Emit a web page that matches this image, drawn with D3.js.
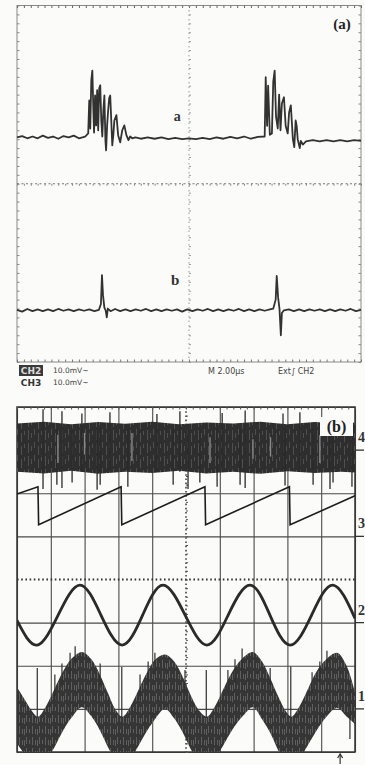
<!DOCTYPE html>
<html><head><meta charset="utf-8">
<script src="https://cdn.jsdelivr.net/npm/d3@7"></script>
<style>body{margin:0;background:#fbfbf9;}svg{display:block}</style>
</head><body><svg id="c" width="365" height="765"></svg>
<script>
// ---------------- DATA (oscilloscope divisions) ----------------
// Panel (a): x = time in divisions (0..10), y = volts in divisions (-4..4)
const traceA = [[0,1.04],[0.15,1.07],[0.3,1.02],[0.45,1.06],[0.6,1.02],[0.75,1.08],[0.9,1.03],[1.05,1.06],[1.2,1.01],[1.35,1.07],[1.5,1.04],[1.65,1.08],[1.8,1.02],[1.98,1.06],
 [2.07,1.13],[2.10,1.87],[2.13,1.24],[2.16,2.32],[2.19,2.54],[2.22,1.65],[2.24,1.15],[2.27,1.98],[2.30,1.31],[2.33,2.10],[2.36,1.20],[2.39,2.14],[2.42,2.21],[2.45,1.42],[2.48,1.06],[2.51,1.65],[2.54,1.98],[2.57,0.98],[2.59,0.75],[2.62,1.31],[2.65,1.65],[2.68,1.92],[2.71,1.98],[2.74,1.42],[2.77,0.86],[2.80,1.09],[2.83,1.42],[2.89,1.54],[2.94,1.09],[3.00,0.93],[3.06,1.20],[3.12,1.31],[3.18,1.09],[3.24,0.98],[3.29,1.06],[3.35,1.02],[3.44,1.04],
 [3.6,1.01],[3.8,1.04],[4.0,1.01],[4.2,1.04],[4.4,1.0],[4.6,1.03],[4.8,1.0],[5.0,1.02],[5.2,1.0],[5.4,1.03],[5.6,1.0],[5.8,1.04],[6.0,1.01],[6.2,1.05],[6.4,1.02],[6.6,1.06],[6.8,1.01],[7.0,1.05],
 [7.2,1.06],[7.23,2.39],[7.27,1.3],[7.30,2.2],[7.35,1.1],[7.41,1.13],[7.45,2.3],[7.49,2.54],[7.53,1.5],[7.58,1.24],[7.62,2.0],[7.66,1.2],[7.70,1.8],[7.76,1.94],[7.81,1.3],[7.87,1.13],[7.91,1.6],[7.96,1.76],[8.02,1.0],[8.06,0.82],[8.10,1.42],[8.13,1.3],[8.16,1.0],[8.22,0.8],[8.25,0.96],[8.31,0.88],
 [8.4,0.95],[8.6,0.98],[8.8,0.95],[9.0,0.98],[9.2,0.95],[9.4,0.98],[9.6,0.95],[9.8,0.98],[10,0.96]];
const traceB = [[0,-2.83],[0.15,-2.87],[0.3,-2.81],[0.45,-2.86],[0.6,-2.82],[0.75,-2.86],[0.9,-2.82],[1.05,-2.86],[1.2,-2.81],[1.35,-2.85],[1.5,-2.82],[1.65,-2.86],[1.8,-2.82],[1.95,-2.85],[2.1,-2.82],[2.25,-2.86],[2.38,-2.83],
 [2.44,-2.7],[2.47,-2.05],[2.5,-2.5],[2.54,-2.78],[2.58,-2.85],[2.61,-3.0],[2.64,-2.8],[2.72,-2.86],
 [2.85,-2.81],[3.0,-2.86],[3.15,-2.82],[3.3,-2.86],[3.45,-2.82],[3.6,-2.85],[3.75,-2.81],[3.9,-2.86],[4.05,-2.82],[4.2,-2.86],[4.35,-2.82],[4.5,-2.85],[4.65,-2.82],[4.8,-2.87],[4.95,-2.82],[5.1,-2.86],[5.25,-2.82],[5.4,-2.85],[5.55,-2.81],[5.7,-2.86],[5.85,-2.82],[6.0,-2.86],[6.15,-2.82],[6.3,-2.85],[6.45,-2.81],[6.6,-2.86],[6.75,-2.82],[6.9,-2.86],[7.05,-2.82],[7.2,-2.85],[7.35,-2.82],[7.45,-2.8],
 [7.52,-2.6],[7.55,-2.07],[7.59,-2.55],[7.63,-2.8],[7.67,-3.4],[7.7,-2.9],[7.76,-2.84],
 [7.9,-2.82],[8.05,-2.86],[8.2,-2.82],[8.35,-2.86],[8.5,-2.82],[8.65,-2.85],[8.8,-2.82],[8.95,-2.86],[9.1,-2.82],[9.25,-2.86],[9.4,-2.82],[9.55,-2.85],[9.7,-2.81],[9.85,-2.86],[10,-2.83]];

// Panel (b): x = time in divisions (0..10), y = divisions (0..8 from bottom)
const ch4Upper = [[0,7.62],[0.8,7.66],[1.6,7.6],[2.4,7.65],[3.2,7.61],[4.0,7.66],[4.8,7.6],[5.6,7.64],[6.4,7.62],[7.2,7.66],[8.0,7.6],[8.8,7.65],[9.6,7.62],[10,7.64]];
const ch4Lower = [[0,6.5],[0.8,6.46],[1.6,6.52],[2.4,6.45],[3.2,6.5],[4.0,6.47],[4.8,6.52],[5.6,6.46],[6.4,6.5],[7.2,6.45],[8.0,6.51],[8.8,6.47],[9.6,6.5],[10,6.48]];
const ch4Spikes = [[0.77,6.1,7.95],[1.18,6.2,7.5],[1.33,6.12,7.9],[1.63,6.25,7.5],[1.92,6.5,7.85],[2.37,6.08,7.5],[2.46,6.2,7.5],[2.75,6.5,7.88],[3.28,6.15,7.5],[4.14,6.5,7.84],[4.62,6.2,7.5],[4.82,6.5,7.9],[5.06,6.1,7.5],[5.41,6.25,7.5],[5.92,6.15,7.5],[6.07,6.5,7.86],[6.6,6.2,7.5],[6.75,6.12,7.92],[7.87,6.5,7.85],[7.93,6.18,7.5],[8.37,6.5,7.88],[8.76,6.2,7.5],[9.26,6.1,7.5],[9.35,6.25,7.5],[9.91,6.15,7.5]];
const ch4Light = [[1.21,6.7,7.35],[3.4,6.75,7.4],[5.71,6.7,7.3],[6.98,6.8,7.25],[8.96,6.7,7.35],[2.0,6.9,7.4],[7.5,6.85,7.3]];
const ch3Saw = [[0,5.98],[0.62,6.15],[0.64,5.27],[3.08,6.15],[3.10,5.27],[5.56,6.15],[5.58,5.27],[8.06,6.15],[8.08,5.27],[10,5.94]];
const ch2Sine = [[0,3.05],[0.59,2.48],[1.22,3.18],[1.86,3.87],[2.48,3.18],[3.11,2.48],[3.72,3.18],[4.32,3.87],[4.97,3.18],[5.62,2.48],[6.25,3.18],[6.89,3.87],[7.48,3.18],[8.08,2.48],[8.72,3.18],[9.35,3.87],[10,3.1]];
const ch1Upper = [[0,1.50],[0.2,1.25],[0.4,1.0],[0.62,0.82],[0.85,1.05],[1.1,1.45],[1.35,1.85],[1.6,2.15],[1.92,2.32],[2.2,2.15],[2.45,1.8],[2.7,1.35],[2.9,1.0],[3.12,0.82],[3.35,1.05],[3.6,1.45],[3.85,1.85],[4.1,2.15],[4.38,2.26],[4.65,2.1],[4.9,1.75],[5.15,1.3],[5.4,0.95],[5.62,0.82],[5.85,1.05],[6.1,1.45],[6.4,1.9],[6.7,2.2],[6.98,2.32],[7.25,2.1],[7.5,1.7],[7.75,1.25],[7.95,0.95],[8.12,0.82],[8.35,1.05],[8.6,1.45],[8.85,1.85],[9.15,2.15],[9.47,2.30],[9.75,2.0],[10,1.38]];
const ch1Lower = [[0,0.2],[0.62,-0.5],[1.1,0.1],[1.5,0.7],[1.92,1.04],[2.3,0.75],[2.7,0.1],[3.12,-0.5],[3.6,0.15],[4.0,0.7],[4.38,1.0],[4.75,0.7],[5.15,0.05],[5.62,-0.5],[6.1,0.15],[6.55,0.75],[6.98,1.04],[7.4,0.6],[7.75,0.0],[8.12,-0.5],[8.6,0.15],[9.05,0.75],[9.47,1.02],[10,0.65]];
const ch1Spikes = [[0.6,0.8,1.95],[3.1,0.8,1.97],[5.6,0.8,1.9],[8.1,0.8,1.98],[1.12,1.2,1.8],[1.33,1.5,2.05],[1.57,1.8,2.3],[1.72,2.0,2.45],[3.64,1.2,1.8],[3.88,1.5,2.1],[4.08,1.8,2.3],[6.24,1.3,1.9],[6.45,1.6,2.15],[6.66,1.9,2.4],[8.73,1.3,1.85],[8.96,1.6,2.1],[9.17,1.9,2.35],[2.46,1.5,2.05],[4.97,1.4,1.9],[7.49,1.4,1.95],[9.85,0.3,1.6]];
const chLevels = [7,5,3,1];
const chNames = ["4","3","2","1"];
const gridMajor = [0,1,2,3,4,5,6,7,8,9,10];
const labelsA = ["CH2","CH3"];
const scalesA = ["10.0mV~","10.0mV~"];
const timebase = "M 2.00\u03bcs";
const trigger = "Ext\u222b CH2";

// ---------------- SCALES ----------------
const svg = d3.select("#c");
const xA = d3.scaleLinear([0,10],[17,361]);
const yA = d3.scaleLinear([-4,4],[362,5.5]);
const xB = d3.scaleLinear([0,10],[17,355]);
const yB = d3.scaleLinear([0,8],[752,407]);
const minor = d3.range(0,10.001,0.2);
const minorY = d3.range(-4,4.001,0.2);

const defs = svg.append("defs");
defs.append("filter").attr("id","blur").append("feGaussianBlur").attr("stdDeviation",0.6);
defs.append("filter").attr("id","blur2").append("feGaussianBlur").attr("stdDeviation",0.45);
defs.append("clipPath").attr("id","clipB").append("rect")
  .attr("x",xB(0)).attr("y",yB(8)).attr("width",xB(10)-xB(0)).attr("height",yB(0)-yB(8));
// irregular stripe textures for the noise bands
const pat = defs.append("pattern").attr("id","stripe").attr("patternUnits","userSpaceOnUse").attr("width",17).attr("height",13);
pat.append("rect").attr("width",17).attr("height",13).attr("fill","#2e2e2e");
[[0,1,6],[4,1,9],[7,1,4],[11,1,10],[14,1,5]].forEach(s=>pat.append("rect").attr("x",s[0]).attr("y",s[0]%5).attr("width",s[1]).attr("height",s[2]).attr("fill","#505050"));
const pat2 = defs.append("pattern").attr("id","stripe2").attr("patternUnits","userSpaceOnUse").attr("width",13).attr("height",11);
pat2.append("rect").attr("width",13).attr("height",11).attr("fill","#353535");
[[0,1,7],[3,1,4],[6,1,8],[9,1,5],[11,1,6]].forEach(s=>pat2.append("rect").attr("x",s[0]).attr("y",(s[0]*3)%6).attr("width",s[1]).attr("height",s[2]).attr("fill","#5e5e5e"));

const noDomain = g => g.select(".domain").remove();

// ---------------- PANEL (a) ----------------
const gA = svg.append("g");
gA.append("rect").attr("x",xA(0)).attr("y",yA(4)).attr("width",xA(10)-xA(0)).attr("height",yA(-4)-yA(4))
  .attr("fill","none").attr("stroke","#8a8a8a").attr("stroke-width",1);
gA.append("g").attr("transform",`translate(0,${yA(4)})`)
  .call(d3.axisBottom(xA).tickValues(minor).tickSize(2.5).tickFormat("")).call(noDomain)
  .selectAll("line").attr("stroke","#666");
gA.append("g").attr("transform",`translate(0,${yA(-4)})`)
  .call(d3.axisTop(xA).tickValues(minor).tickSize(2.5).tickFormat("")).call(noDomain)
  .selectAll("line").attr("stroke","#777");
gA.append("g").attr("transform",`translate(${xA(0)},0)`)
  .call(d3.axisRight(yA).tickValues(minorY).tickSize(2.5).tickFormat("")).call(noDomain)
  .selectAll("line").attr("stroke","#888");
gA.append("g").attr("transform",`translate(${xA(10)},0)`)
  .call(d3.axisLeft(yA).tickValues(minorY).tickSize(2.5).tickFormat("")).call(noDomain)
  .selectAll("line").attr("stroke","#888");
gA.append("line").attr("x1",xA(0)).attr("x2",xA(10)).attr("y1",yA(0)).attr("y2",yA(0))
  .attr("stroke","#777").attr("stroke-width",1.2).attr("stroke-dasharray","2,2.5");
gA.append("line").attr("x1",xA(5)).attr("x2",xA(5)).attr("y1",yA(4)).attr("y2",yA(-4))
  .attr("stroke","#999").attr("stroke-width",1).attr("stroke-dasharray","1.5,3");
gA.append("g").attr("transform",`translate(0,${yA(0)})`)
  .call(d3.axisBottom(xA).tickValues(minor).tickSize(2).tickFormat("")).call(noDomain)
  .selectAll("line").attr("stroke","#888");
gA.append("g").attr("transform",`translate(${xA(5)},0)`)
  .call(d3.axisRight(yA).tickValues(minorY).tickSize(2).tickFormat("")).call(noDomain)
  .selectAll("line").attr("stroke","#999");

const lineA = d3.line().x(d=>xA(d[0])).y(d=>yA(d[1]));
[traceA, traceB].forEach(t=>{
  gA.append("path").datum(t).attr("d",lineA).attr("fill","none")
    .attr("stroke","#333").attr("stroke-width",1.8).attr("stroke-linejoin","round").attr("filter","url(#blur)");
});

const serif = "'Liberation Serif','DejaVu Serif',serif";
gA.append("text").attr("x",xA(9.45)).attr("y",yA(3.48)).attr("text-anchor","middle")
  .attr("font-family",serif).attr("font-weight","bold").attr("font-size",15).attr("fill","#222").text("(a)");
gA.append("text").attr("x",xA(4.66)).attr("y",yA(1.4)).attr("text-anchor","middle")
  .attr("font-family",serif).attr("font-weight","bold").attr("font-size",14).attr("fill","#333").text("a");
gA.append("text").attr("x",xA(4.6)).attr("y",yA(-2.28)).attr("text-anchor","middle")
  .attr("font-family",serif).attr("font-weight","bold").attr("font-size",15).attr("fill","#333").text("b");

const sans = "'DejaVu Sans',sans-serif";
labelsA.forEach((l,i)=>{
  const y = 374 + i*12;
  if(i===0){
    gA.append("rect").attr("x",19).attr("y",y-9).attr("width",24).attr("height",11).attr("fill","#3a3a3a");
    gA.append("text").attr("x",31).attr("y",y).attr("text-anchor","middle").attr("font-family",sans)
      .attr("font-size",9).attr("font-weight","bold").attr("fill","#ddd").text(l);
  } else {
    gA.append("text").attr("x",31).attr("y",y).attr("text-anchor","middle").attr("font-family",sans)
      .attr("font-size",9).attr("font-weight","bold").attr("fill","#333").text(l);
  }
  gA.append("text").attr("x",53).attr("y",y-1).attr("font-family",sans).attr("font-size",7.5)
    .attr("fill","#444").text(scalesA[i]);
});
gA.append("text").attr("x",208).attr("y",374).attr("font-family",sans).attr("font-size",8).attr("fill","#444").text(timebase);
gA.append("text").attr("x",278).attr("y",374).attr("font-family",sans).attr("font-size",8).attr("fill","#444").text(trigger);

// ---------------- PANEL (b) ----------------
const gB = svg.append("g");
const H = yB(0)-yB(8), W = xB(10)-xB(0);
gB.append("g").attr("transform",`translate(0,${yB(0)})`)
  .call(d3.axisBottom(xB).tickValues(gridMajor.filter(d=>d!==5)).tickSize(-H).tickFormat("")).call(noDomain)
  .selectAll("line").attr("stroke","#4a4a4a").attr("stroke-width",1.1);
gB.append("g").attr("transform",`translate(${xB(0)},0)`)
  .call(d3.axisLeft(yB).tickValues([0,1,2,3,5,6,7,8]).tickSize(-W).tickFormat("")).call(noDomain)
  .selectAll("line").attr("stroke","#4a4a4a").attr("stroke-width",1.1);
gB.append("rect").attr("x",xB(0)).attr("y",yB(8)).attr("width",W).attr("height",H)
  .attr("fill","none").attr("stroke","#333").attr("stroke-width",1.5);
gB.append("line").attr("x1",xB(0)).attr("x2",xB(10)).attr("y1",yB(4)).attr("y2",yB(4))
  .attr("stroke","#333").attr("stroke-width",2).attr("stroke-dasharray","1.6,2.6");
gB.append("line").attr("x1",xB(5)).attr("x2",xB(5)).attr("y1",yB(8)).attr("y2",yB(0))
  .attr("stroke","#444").attr("stroke-width",1.6).attr("stroke-dasharray","1.6,2.6");
gB.append("g").attr("transform",`translate(${xB(5)},0)`)
  .call(d3.axisRight(yB).tickValues(d3.range(0,8.001,0.2)).tickSize(2).tickFormat("")).call(noDomain)
  .selectAll("line").attr("stroke","#555");
gB.append("g").attr("transform",`translate(0,${yB(8)})`)
  .call(d3.axisBottom(xB).tickValues(minor).tickSize(2.5).tickFormat("")).call(noDomain)
  .selectAll("line").attr("stroke","#555");

const tr = gB.append("g").attr("clip-path","url(#clipB)");
// channel 4 noise band
const area4 = d3.area().x(d=>xB(d[0])).y0((d,i)=>yB(ch4Lower[i][1])).y1(d=>yB(d[1]));
tr.append("path").datum(ch4Upper).attr("d",area4).attr("fill","url(#stripe)").attr("filter","url(#blur2)");
tr.selectAll(".s4").data(ch4Spikes).join("line")
  .attr("x1",d=>xB(d[0])).attr("x2",d=>xB(d[0])).attr("y1",d=>yB(d[1])).attr("y2",d=>yB(d[2]))
  .attr("stroke","#2a2a2a").attr("stroke-width",1.3);
tr.selectAll(".l4").data(ch4Light).join("line")
  .attr("x1",d=>xB(d[0])).attr("x2",d=>xB(d[0])).attr("y1",d=>yB(d[1])).attr("y2",d=>yB(d[2]))
  .attr("stroke","#8a8a8a").attr("stroke-width",1.4);
// channel 3 sawtooth
tr.append("path").datum(ch3Saw).attr("d",d3.line().x(d=>xB(d[0])).y(d=>yB(d[1])))
  .attr("fill","none").attr("stroke","#1e1e1e").attr("stroke-width",1.6).attr("filter","url(#blur2)");
// channel 2 sine
tr.append("path").datum(ch2Sine).attr("d",d3.line().x(d=>xB(d[0])).y(d=>yB(d[1])).curve(d3.curveNatural))
  .attr("fill","none").attr("stroke","#2a2a2a").attr("stroke-width",2.8).attr("filter","url(#blur2)");
// channel 1 noisy band
const lowerScale = d3.scaleLinear(ch1Lower.map(d=>d[0]), ch1Lower.map(d=>d[1]));
const area1 = d3.area().x(d=>xB(d[0])).y1(d=>yB(d[1])).y0(d=>yB(lowerScale(d[0]))).curve(d3.curveCatmullRom);
tr.append("path").datum(ch1Upper).attr("d",area1).attr("fill","url(#stripe2)").attr("filter","url(#blur2)");
tr.selectAll(".s1").data(ch1Spikes).join("line")
  .attr("x1",d=>xB(d[0])).attr("x2",d=>xB(d[0])).attr("y1",d=>yB(d[1])).attr("y2",d=>yB(d[2]))
  .attr("stroke","#2e2e2e").attr("stroke-width",1.2);

gB.append("rect").attr("x",320).attr("y",417).attr("width",33).attr("height",19).attr("fill","#fbfbf9");
gB.append("text").attr("x",336.5).attr("y",432).attr("text-anchor","middle").attr("font-family",serif)
  .attr("font-weight","bold").attr("font-size",16).attr("fill","#222").text("(b)");

chLevels.forEach((lv,i)=>{
  gB.append("line").attr("x1",xB(10)).attr("x2",xB(10)+9).attr("y1",yB(lv)).attr("y2",yB(lv))
    .attr("stroke","#333").attr("stroke-width",1.3);
  gB.append("text").attr("x",xB(10)+3).attr("y",yB(lv)-8).attr("font-family",serif)
    .attr("font-weight","bold").attr("font-size",14).attr("fill","#333").text(chNames[i]);
});
const trigT = 9.56;
gB.append("line").attr("x1",xB(trigT)).attr("x2",xB(trigT)).attr("y1",yB(0)+2).attr("y2",yB(0)+12)
  .attr("stroke","#333").attr("stroke-width",1.2);
gB.append("path").attr("d",`M${xB(trigT)-2.5},${yB(0)+6}L${xB(trigT)},${yB(0)+2}L${xB(trigT)+2.5},${yB(0)+6}`)
  .attr("fill","none").attr("stroke","#333").attr("stroke-width",1.2);
</script></body></html>
